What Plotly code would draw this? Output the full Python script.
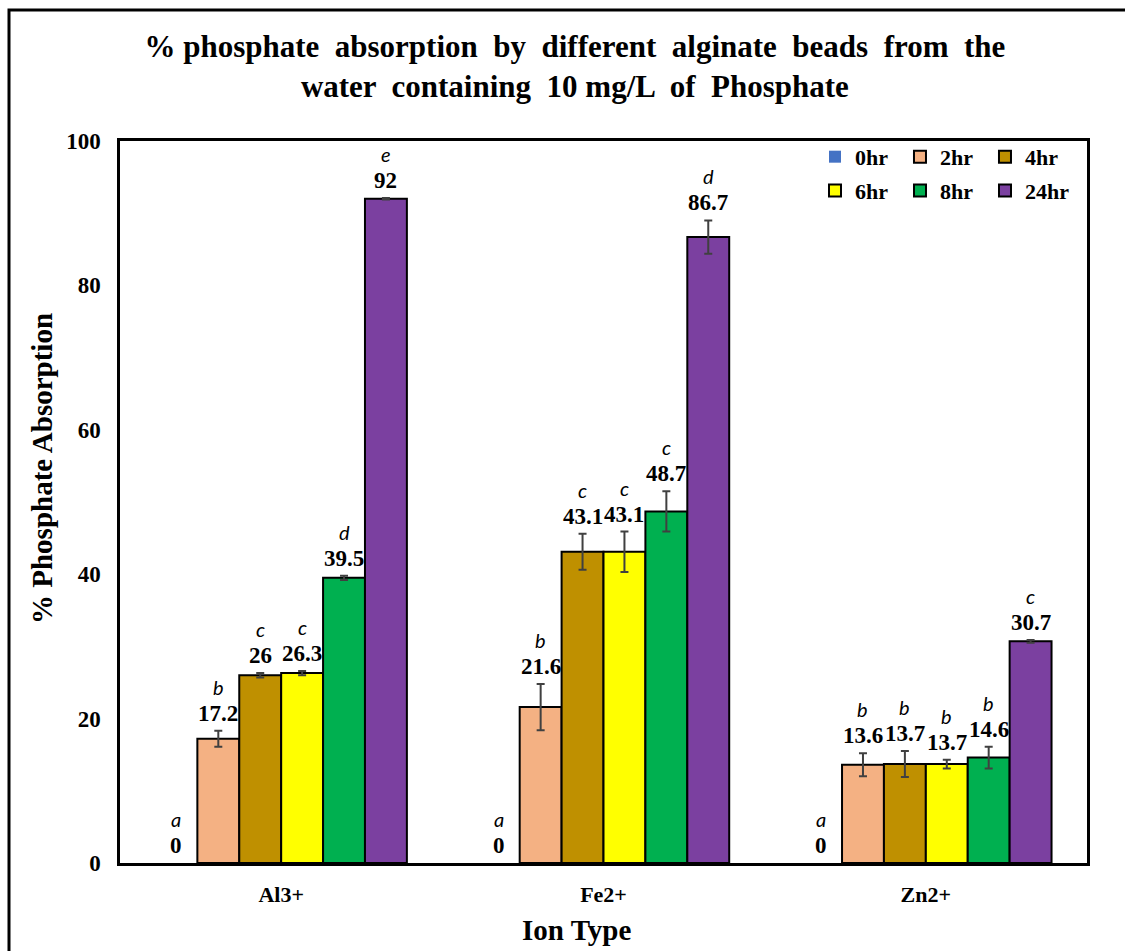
import plotly.graph_objects as go

categories = ["Al3+", "Fe2+", "Zn2+"]
series_names = ["0hr", "2hr", "4hr", "6hr", "8hr", "24hr"]
colors = ["#4472C4", "#F4B183", "#BF9000", "#FFFF00", "#00B050", "#7B40A0"]

v_0hr = [0, 0, 0]
v_2hr = [17.2, 21.6, 13.6]
v_4hr = [26, 43.1, 13.7]
v_6hr = [26.3, 43.1, 13.7]
v_8hr = [39.5, 48.7, 14.6]
v_24hr = [92, 86.7, 30.7]

e_0hr = [0, 0, 0]
e_2hr = [1.1, 3.2, 1.6]
e_4hr = [0.3, 2.5, 1.8]
e_6hr = [0.3, 2.8, 0.6]
e_8hr = [0.3, 2.8, 1.5]
e_24hr = [0.1, 2.3, 0.2]

l_0hr = ["a", "a", "a"]
l_2hr = ["b", "b", "b"]
l_4hr = ["c", "c", "b"]
l_6hr = ["c", "c", "b"]
l_8hr = ["d", "c", "b"]
l_24hr = ["e", "d", "c"]

values = [v_0hr, v_2hr, v_4hr, v_6hr, v_8hr, v_24hr]
errors = [e_0hr, e_2hr, e_4hr, e_6hr, e_8hr, e_24hr]
letters = [l_0hr, l_2hr, l_4hr, l_6hr, l_8hr, l_24hr]

SERIF = "Liberation Serif"
BARGAP = 0.22
n = len(series_names)
w = (1 - BARGAP) / n

fig = go.Figure()
for j, name in enumerate(series_names):
    fig.add_trace(go.Bar(
        x=categories, y=values[j], name=name,
        marker=dict(color=colors[j],
                    line=dict(color="black", width=0 if j == 0 else 2)),
        error_y=dict(type="data", array=errors[j], visible=j > 0,
                     color="#404040", thickness=2, width=4),
        legend="legend" if j < 3 else "legend2",
    ))

annotations = []
for j in range(n):
    for i in range(len(categories)):
        v = values[j][i]
        top = v + errors[j][i]
        xpos = i + (j - (n - 1) / 2) * w
        annotations.append(dict(
            x=xpos, y=top, xref="x", yref="y",
            text=f"<b>{v:g}</b>", showarrow=False, yanchor="bottom", yshift=3,
            font=dict(family=SERIF, size=23, color="black"),
        ))
        annotations.append(dict(
            x=xpos, y=top, xref="x", yref="y",
            text=f"<i>{letters[j][i]}</i>", showarrow=False, yanchor="bottom", yshift=30,
            font=dict(family="Lato", size=20, color="black"),
        ))

title_font = dict(family=SERIF, size=29, color="black", weight="bold")
annotations.append(dict(
    text="% Phosphate Absorption", textangle=-90, showarrow=False,
    xref="paper", yref="paper", x=(42 - 120) / 967, y=1 - (469 - 141) / 722,
    xanchor="center", yanchor="middle", font=title_font))
annotations.append(dict(
    text="Ion Type", showarrow=False,
    xref="paper", yref="paper", x=(576 - 120) / 967, y=-(930 - 863) / 722,
    xanchor="center", yanchor="middle", font=title_font))

legend_font = dict(family=SERIF, size=22, color="black", weight="bold")

fig.update_layout(
    width=1125, height=951,
    paper_bgcolor="white", plot_bgcolor="white",
    margin=dict(l=120, r=38, t=141, b=88, autoexpand=False),
    barmode="group", bargap=BARGAP, bargroupgap=0,
    title=dict(
        text="% phosphate  absorption  by  different  alginate  beads  from  the<br>water  containing  10 mg/L  of  Phosphate",
        x=0.511, xanchor="center", y=0.94, yanchor="middle",
        font=dict(family=SERIF, size=31, color="black", weight="bold"),
    ),
    xaxis=dict(
        showline=True, linecolor="black", linewidth=2.5, mirror=True,
        ticks="", range=[-0.5, 2.5], ticklabelstandoff=10,
        tickfont=dict(family=SERIF, size=22, color="black", weight="bold"),
    ),
    yaxis=dict(
        showline=True, linecolor="black", linewidth=2.5, mirror=True,
        range=[0, 100], tickvals=[0, 20, 40, 60, 80, 100], showgrid=False,
        zeroline=False, ticks="", ticklabelstandoff=12,
        tickfont=dict(family=SERIF, size=23, color="black", weight="bold"),
    ),
    legend=dict(orientation="h", x=0.7187, xanchor="left", y=0.978, yanchor="middle",
                entrywidth=40, itemwidth=30, bgcolor="rgba(0,0,0,0)", font=legend_font),
    legend2=dict(orientation="h", x=0.7187, xanchor="left", y=0.931, yanchor="middle",
                 entrywidth=40, itemwidth=30, bgcolor="rgba(0,0,0,0)", font=legend_font),
    annotations=annotations,
    shapes=[dict(type="rect", xref="paper", yref="paper",
                 x0=(9 - 120) / 967, x1=1.1, y0=-0.2, y1=1 + (141 - 10) / 722,
                 line=dict(color="black", width=3), layer="below")],
    showlegend=True,
)

fig.write_html("out.html", config={"displayModeBar": False},
               post_script="document.body.style.margin='0px';")
